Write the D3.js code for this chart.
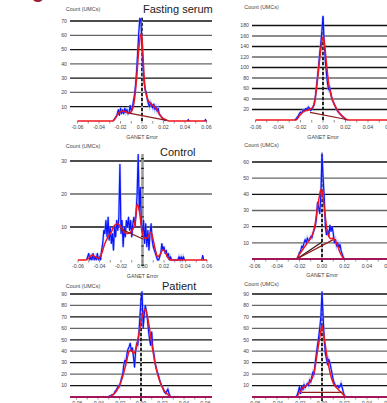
<!DOCTYPE html>
<html>
<head>
<meta charset="utf-8">
<script src="https://cdn.jsdelivr.net/npm/d3@7"></script>
<style>
  body { margin: 0; background: #fff; }
  svg { display: block; font-family: "Liberation Sans", Arial, sans-serif; }
</style>
</head>
<body>
<svg id="fig" width="387" height="403"></svg>
<script>
// ---- data (GANET error histograms, bins of 0.001) ----
const xTickValues = [-0.06, -0.04, -0.02, 0, 0.02, 0.04, 0.06];
const xTickLabels = ["-0.06", "-0.04", "-0.02", "0.00", "0.02", "0.04", "0.06"];
const binWidth = 0.001;

// Fasting serum, left
const fastLTicks = [10, 20, 30, 40, 50, 60, 70];
const fastLBlueStart = -0.027;
const fastLBlue = [0, 1, 2, 3, 5, 8, 4, 9, 5, 8, 5, 9, 6, 8, 5, 6, 11, 7, 9, 14, 18, 25, 35, 48, 62, 72, 70, 52, 38, 27, 22, 20, 15, 12, 10, 13, 11, 9, 12, 8, 10, 7, 9, 5, 4, 3, 2, 1, 1, 0];
const fastLBlipX = [0.043, 0.059];
const fastLBlipY = [1, 1];
const fastLRedX = [-0.06, -0.027, -0.024, -0.021, -0.018, -0.015, -0.012, -0.009, -0.007, -0.005, -0.003, -0.001, 0, 0.001, 0.002, 0.003, 0.005, 0.007, 0.01, 0.013, 0.016, 0.019, 0.022, 0.025, 0.06];
const fastLRedY = [0, 0, 3, 6, 7, 6.5, 5.5, 8, 15, 30, 50, 61, 58, 45, 30, 22, 16, 13, 11, 9, 5, 2, 1, 0, 0];
const fastLBrownX = [-0.012, 0.023];
const fastLBrownY = [5.5, 0.5];

// Fasting serum, right
const fastRTicks = [20, 40, 60, 80, 100, 120, 140, 160, 180];
const fastRBlueStart = -0.025;
const fastRBlue = [0, 2, 5, 8, 12, 15, 13, 18, 16, 20, 22, 19, 25, 22, 18, 20, 24, 28, 40, 60, 80, 100, 125, 145, 170, 198, 150, 115, 90, 70, 58, 62, 50, 40, 35, 30, 25, 20, 17, 14, 12, 10, 7, 5, 3, 1, 0];
const fastRRedX = [-0.06, -0.024, -0.021, -0.018, -0.015, -0.012, -0.009, -0.007, -0.005, -0.003, -0.001, 0, 0.001, 0.003, 0.005, 0.007, 0.009, 0.012, 0.015, 0.018, 0.021, 0.023, 0.07];
const fastRRedY = [0, 0, 8, 15, 18, 20, 25, 40, 75, 115, 150, 158, 150, 110, 70, 48, 35, 22, 12, 6, 1, 0, 0];
const fastRBrownX = [-0.0115, 0.021];
const fastRBrownY = [14.5, 1];

// Control, left
const ctrlLTicks = [10, 20, 30];
const ctrlLBlueStart = -0.052;
const ctrlLBlue = [0, 1, 2, 0, 1, 0, 2, 0, 1, 0, 2, 0, 1, 0, 3, 5, 9, 8, 12, 7, 13, 6, 10, 5, 8, 3, 10, 7, 12, 9, 13, 29, 8, 12, 4, 10, 7, 12, 10, 13, 9, 12, 7, 11, 13, 10, 14, 20, 32, 15, 22, 10, 8, 12, 5, 11, 4, 9, 3, 8, 11, 6, 4, 3, 2, 1, 0, 0, 1, 2, 5, 3, 4, 2, 3, 1, 2, 0, 1, 0, 0, 0, 0, 0, 0, 0, 1, 0, 1, 0, 1, 0];
const ctrlLBlipX = [0.056];
const ctrlLBlipY = [1.5];
const ctrlLRedX = [-0.06, -0.053, -0.05, -0.047, -0.044, -0.041, -0.038, -0.035, -0.032, -0.029, -0.026, -0.023, -0.02, -0.017, -0.014, -0.011, -0.008, -0.006, -0.005, -0.003, -0.001, 0.001, 0.003, 0.005, 0.008, 0.01, 0.012, 0.014, 0.016, 0.019, 0.021, 0.023, 0.026, 0.06];
const ctrlLRedY = [0, 0, 0.5, 1.5, 1, 0.5, 2, 5, 7, 8.5, 10.5, 11, 10, 8.5, 8, 8.5, 10, 14, 17, 15, 10, 7, 6.5, 7, 8.5, 6, 3, 1, 1.5, 3, 2.5, 1, 0, 0];
const ctrlLBrownX = [-0.021, 0.001];
const ctrlLBrownY = [9.5, 6.3];

// Control, right
const ctrlRTicks = [10, 20, 30, 40, 50, 60];
const ctrlRBlueStart = -0.022;
const ctrlRBlue = [0, 2, 4, 5, 8, 7, 10, 12, 10, 13, 11, 12, 14, 13, 16, 18, 20, 25, 35, 32, 28, 40, 65, 50, 38, 20, 15, 18, 14, 21, 17, 20, 16, 10, 12, 8, 10, 7, 9, 5, 3, 1, 0];
const ctrlRRedX = [-0.06, -0.023, -0.02, -0.017, -0.014, -0.011, -0.008, -0.006, -0.004, -0.002, -0.001, 0, 0.002, 0.004, 0.006, 0.008, 0.01, 0.012, 0.014, 0.016, 0.018, 0.02, 0.07];
const ctrlRRedY = [0, 0, 3, 6, 9, 12, 16, 22, 32, 40, 43, 42, 32, 20, 14, 12.5, 13, 11, 8, 4, 1.5, 0, 0];
const ctrlRBrownX = [-0.0225, 0.01];
const ctrlRBrownY = [0, 12];
const ctrlRDarkX = [-0.0225, 0];
const ctrlRDarkY = [0, 10.5];

// Patient, left
const patLTicks = [10, 20, 30, 40, 50, 60, 70, 80, 90];
const patLBlueStart = -0.03;
const patLBlue = [0.5, 1, 1, 2, 2, 3, 5, 6, 8, 10, 9, 13, 17, 20, 28, 32, 30, 38, 42, 44, 47, 40, 43, 35, 26, 40, 47, 45, 55, 70, 85, 92, 60, 72, 80, 75, 68, 58, 50, 45, 57, 42, 38, 30, 26, 22, 20, 16, 13, 10, 9, 6, 4, 3, 5, 7, 3, 1, 0];
const patLBlipX = [-0.035, 0.031, 0.034];
const patLBlipY = [0.5, 0.5, 0.5];
const patLRedX = [-0.06, -0.03, -0.026, -0.023, -0.02, -0.017, -0.015, -0.013, -0.011, -0.009, -0.007, -0.005, -0.002, 0.001, 0.004, 0.007, 0.01, 0.013, 0.016, 0.019, 0.022, 0.025, 0.028, 0.06];
const patLRedY = [0, 0, 2, 5, 10, 18, 25, 33, 40, 41, 38, 41, 55, 70, 77, 65, 47, 30, 18, 10, 5, 2, 0, 0];

// Patient, right
const patRTicks = [10, 20, 30, 40, 50, 60, 70, 80, 90];
const patRBlueStart = -0.023;
const patRBlue = [0, 2, 5, 9, 3, 10, 6, 11, 8, 10, 12, 10, 15, 13, 18, 22, 20, 30, 38, 45, 52, 60, 70, 92, 70, 50, 38, 33, 28, 33, 30, 25, 20, 15, 12, 10, 9, 10, 8, 9, 12, 8, 4, 1, 0];
const patRRedX = [-0.06, -0.023, -0.02, -0.017, -0.014, -0.011, -0.008, -0.006, -0.004, -0.002, -0.001, 0, 0.001, 0.003, 0.005, 0.007, 0.01, 0.013, 0.016, 0.018, 0.02, 0.022, 0.07];
const patRRedY = [0, 0, 4, 8, 10, 13, 18, 27, 40, 52, 58, 62, 58, 45, 32, 22, 12, 8, 5, 3, 1, 0, 0];
const patRBrownX = [-0.018, 0.018];
const patRBrownY = [4, 4];

// ---- layout ----
const svg = d3.select("#fig");

const panels = [
  { title: "Fasting serum", titleX: 143, titleY: 13, ticks: fastLTicks, blueStart: fastLBlueStart, blue: fastLBlue,
    blipX: fastLBlipX, blipY: fastLBlipY, redX: fastLRedX, redY: fastLRedY, brown: [[fastLBrownX, fastLBrownY, "#8b1c1c"]],
    xRange: [77.5, 206.5], gridX: [70, 212], yRange: [121, 21], yMax: 70, vLine: [121, 17], vStyle: "dash",
    countX: 83, countY: 11, tickY: 129, labY: 139, base: "red" },
  { ticks: fastRTicks, blueStart: fastRBlueStart, blue: fastRBlue, redX: fastRRedX, redY: fastRRedY,
    brown: [[fastRBrownX, fastRBrownY, "#8b1c1c"]],
    xRange: [255.5, 390.5], gridX: [252, 400], yRange: [120, 25.5], yMax: 180, vLine: [120, 16], vStyle: "dash",
    countX: 261.5, countY: 8.5, tickY: 129, labY: 139, base: "red" },
  { title: "Control", titleX: 160, titleY: 156, ticks: ctrlLTicks, blueStart: ctrlLBlueStart, blue: ctrlLBlue,
    blipX: ctrlLBlipX, blipY: ctrlLBlipY, redX: ctrlLRedX, redY: ctrlLRedY, brown: [[ctrlLBrownX, ctrlLBrownY, "#8b1c1c"]],
    xRange: [78, 207], gridX: [70, 212], yRange: [260, 161], yMax: 30, vLine: [266, 154], vStyle: "gray",
    countX: 83, countY: 148, tickY: 268, labY: 278, base: "red" },
  { ticks: ctrlRTicks, blueStart: ctrlRBlueStart, blue: ctrlRBlue, redX: ctrlRRedX, redY: ctrlRRedY,
    brown: [[ctrlRDarkX, ctrlRDarkY, "#3a1010"], [ctrlRBrownX, ctrlRBrownY, "#8b1c1c"]],
    xRange: [254.5, 389.5], gridX: [252, 400], yRange: [259, 162], yMax: 60, vLine: [262, 152], vStyle: "dash",
    countX: 261.5, countY: 147, tickY: 268, labY: 277, base: "maroon" },
  { title: "Patient", titleX: 162, titleY: 290, ticks: patLTicks, blueStart: patLBlueStart, blue: patLBlue,
    blipX: patLBlipX, blipY: patLBlipY, redX: patLRedX, redY: patLRedY, brown: [],
    xRange: [76.5, 205.5], gridX: [70, 212], yRange: [397, 294], yMax: 90, vLine: [401, 292], vStyle: "dash",
    countX: 83, countY: 287.5, tickY: 405, labY: 415, base: "maroon" },
  { ticks: patRTicks, blueStart: patRBlueStart, blue: patRBlue, redX: patRRedX, redY: patRRedY,
    brown: [[patRBrownX, patRBrownY, "#8b1c1c"]],
    xRange: [254.5, 389.5], gridX: [252, 400], yRange: [397, 294], yMax: 90, vLine: [401, 292], vStyle: "dash",
    countX: 261.5, countY: 286, tickY: 405, labY: 415, base: "maroon" }
];

// panel letter, mostly cropped off the top
svg.append("text").attr("x", 32).attr("y", -2.5)
  .attr("font-size", 20).attr("font-weight", "bold").attr("fill", "#9b1b30").text("g");

panels.forEach(p => {
  const g = svg.append("g");
  const x = d3.scaleLinear().domain([-0.06, 0.06]).range(p.xRange);
  const y = d3.scaleLinear().domain([0, p.yMax]).range(p.yRange);

  // horizontal grid lines
  g.selectAll(".grid").data(p.ticks).join("line")
    .attr("x1", p.gridX[0]).attr("x2", p.gridX[1])
    .attr("y1", d => y(d)).attr("y2", d => y(d))
    .attr("stroke", (d, i) => (p.ticks.length - i) % 2 ? "#111" : "#666")
    .attr("stroke-width", 1.3);

  // y tick labels
  g.selectAll(".ylab").data(p.ticks).join("text")
    .attr("x", p.gridX[0] - 3).attr("y", d => y(d) + 1.8)
    .attr("text-anchor", "end").attr("font-size", 5.2).attr("fill", "#444")
    .text(d => d);

  // vertical line at zero
  const x0 = x(0);
  if (p.vStyle === "gray") {
    g.append("line").attr("x1", x0).attr("x2", x0).attr("y1", p.vLine[0]).attr("y2", p.vLine[1])
      .attr("stroke", "#999").attr("stroke-width", 2.5);
    g.append("line").attr("x1", x0).attr("x2", x0).attr("y1", p.vLine[0]).attr("y2", p.vLine[1])
      .attr("stroke", "#111").attr("stroke-width", 2.5).attr("stroke-dasharray", "1.2,8.5");
  } else {
    g.append("line").attr("x1", x0).attr("x2", x0).attr("y1", p.vLine[0]).attr("y2", p.vLine[1])
      .attr("stroke", "#bbb").attr("stroke-width", 1.6);
    g.append("line").attr("x1", x0).attr("x2", x0).attr("y1", p.vLine[0]).attr("y2", p.vLine[1])
      .attr("stroke", "#000").attr("stroke-width", 1.6).attr("stroke-dasharray", "3,2");
  }

  // x axis minor ticks and labels
  const base = y(0);
  g.selectAll(".xt").data(d3.range(-6, 7).map(k => k / 100)).join("line")
    .attr("x1", d => x(d)).attr("x2", d => x(d))
    .attr("y1", base).attr("y2", base + 2.5)
    .attr("stroke", "#777").attr("stroke-width", 0.8);
  g.selectAll(".xlab").data(xTickValues).join("text")
    .attr("x", d => x(d)).attr("y", p.tickY)
    .attr("text-anchor", "middle").attr("font-size", 5.3).attr("fill", "#444")
    .text((d, i) => xTickLabels[i]);

  // blue histogram
  const blueLine = d3.line().x((d, i) => x(p.blueStart + i * binWidth)).y(d => y(d));
  g.append("path").attr("d", blueLine(p.blue)).attr("fill", "none")
    .attr("stroke", "#9aa8ff").attr("stroke-width", 2.4).attr("stroke-opacity", 0.6);
  g.append("path").attr("d", blueLine(p.blue)).attr("fill", "none")
    .attr("stroke", "#0a14ff").attr("stroke-width", 1.2).attr("stroke-linejoin", "round");
  if (p.blipX) {
    p.blipX.forEach((bx, i) => {
      g.append("path")
        .attr("d", d3.line()([[x(bx - binWidth), y(0)], [x(bx), y(p.blipY[i])], [x(bx + binWidth), y(0)]]))
        .attr("fill", "none").attr("stroke", "#0a14ff").attr("stroke-width", 1.2);
    });
  }

  // red smoothed fit
  const redPts = p.redX.map((v, i) => [v, p.redY[i]]);
  const redLine = d3.line().x(d => x(d[0])).y(d => y(d[1])).curve(d3.curveMonotoneX);
  g.append("path").attr("d", redLine(redPts)).attr("fill", "none")
    .attr("stroke", "#f0141e").attr("stroke-width", 1.5);

  // brown straight lines
  p.brown.forEach(([bx, by, col]) => {
    g.append("path").attr("d", d3.line()(bx.map((v, i) => [x(v), y(by[i])])))
      .attr("fill", "none").attr("stroke", col).attr("stroke-width", 1.2);
  });

  // baseline
  if (p.base === "maroon") {
    g.append("line").attr("x1", p.gridX[0]).attr("x2", p.gridX[1]).attr("y1", base).attr("y2", base)
      .attr("stroke", "#a3165a").attr("stroke-width", 2);
  }

  // labels
  g.append("text").attr("x", p.countX).attr("y", p.countY).attr("text-anchor", "middle")
    .attr("font-size", 5.4).attr("fill", "#444").text("Count (UMCs)");
  g.append("text").attr("x", x0).attr("y", p.labY).attr("text-anchor", "middle")
    .attr("font-size", 5.3).attr("fill", "#444").text("GANET Error");
  if (p.title) {
    g.append("text").attr("x", p.titleX).attr("y", p.titleY)
      .attr("font-size", 11).attr("fill", "#222").text(p.title);
  }
});
</script>
</body>
</html>
